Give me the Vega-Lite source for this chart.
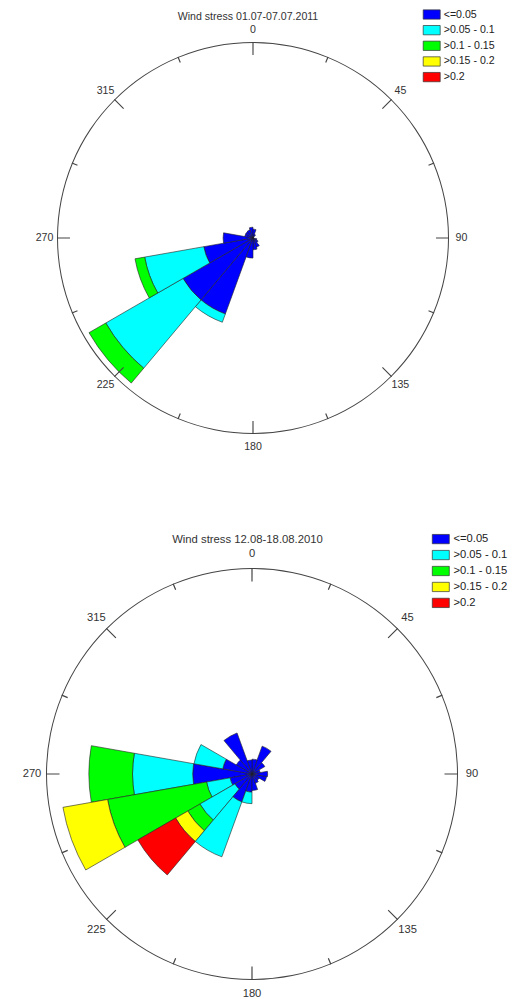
{
  "$schema": "https://vega.github.io/schema/vega-lite/v6.json",
  "padding": 0,
  "background": "white",
  "bounds": "flush",
  "spacing": 73,
  "datasets": {
    "top": [
      {"d0": 200, "d1": 220, "cls": "<=0.05", "v": 16.5},
      {"d0": 200, "d1": 220, "cls": ">0.05 - 0.1", "v": 1.8},
      {"d0": 220, "d1": 240, "cls": "<=0.05", "v": 16.5},
      {"d0": 220, "d1": 240, "cls": ">0.05 - 0.1", "v": 18.2},
      {"d0": 220, "d1": 240, "cls": ">0.1 - 0.15", "v": 3.95},
      {"d0": 240, "d1": 260, "cls": "<=0.05", "v": 10.2},
      {"d0": 240, "d1": 260, "cls": ">0.05 - 0.1", "v": 12.25},
      {"d0": 240, "d1": 260, "cls": ">0.1 - 0.15", "v": 2.0},
      {"d0": 260, "d1": 280, "cls": "<=0.05", "v": 6.1},
      {"d0": 280, "d1": 300, "cls": "<=0.05", "v": 1.7},
      {"d0": 300, "d1": 320, "cls": "<=0.05", "v": 1.7},
      {"d0": 320, "d1": 340, "cls": "<=0.05", "v": 1.8},
      {"d0": 340, "d1": 360, "cls": "<=0.05", "v": 2.2},
      {"d0": 0, "d1": 20, "cls": "<=0.05", "v": 1.8},
      {"d0": 20, "d1": 40, "cls": "<=0.05", "v": 0.8},
      {"d0": 100, "d1": 120, "cls": "<=0.05", "v": 0.8},
      {"d0": 120, "d1": 140, "cls": "<=0.05", "v": 1.2},
      {"d0": 140, "d1": 160, "cls": "<=0.05", "v": 2.0},
      {"d0": 160, "d1": 180, "cls": "<=0.05", "v": 2.4},
      {"d0": 180, "d1": 200, "cls": "<=0.05", "v": 4.1}
    ],
    "bot": [
      {"d0": 260, "d1": 280, "cls": "<=0.05", "v": 7.2},
      {"d0": 260, "d1": 280, "cls": ">0.05 - 0.1", "v": 7.3},
      {"d0": 260, "d1": 280, "cls": ">0.1 - 0.15", "v": 5.3},
      {"d0": 240, "d1": 260, "cls": "<=0.05", "v": 2.7},
      {"d0": 240, "d1": 260, "cls": ">0.05 - 0.1", "v": 2.9},
      {"d0": 240, "d1": 260, "cls": ">0.1 - 0.15", "v": 12.2},
      {"d0": 240, "d1": 260, "cls": ">0.15 - 0.2", "v": 5.5},
      {"d0": 220, "d1": 240, "cls": "<=0.05", "v": 2.4},
      {"d0": 220, "d1": 240, "cls": ">0.05 - 0.1", "v": 4.9},
      {"d0": 220, "d1": 240, "cls": ">0.1 - 0.15", "v": 1.7},
      {"d0": 220, "d1": 240, "cls": ">0.15 - 0.2", "v": 1.7},
      {"d0": 220, "d1": 240, "cls": ">0.2", "v": 5.3},
      {"d0": 200, "d1": 220, "cls": "<=0.05", "v": 3.6},
      {"d0": 200, "d1": 220, "cls": ">0.05 - 0.1", "v": 7.1},
      {"d0": 180, "d1": 200, "cls": "<=0.05", "v": 2.2},
      {"d0": 180, "d1": 200, "cls": ">0.05 - 0.1", "v": 1.4},
      {"d0": 160, "d1": 180, "cls": "<=0.05", "v": 2.0},
      {"d0": 140, "d1": 160, "cls": "<=0.05", "v": 1.2},
      {"d0": 120, "d1": 140, "cls": "<=0.05", "v": 1.0},
      {"d0": 100, "d1": 120, "cls": "<=0.05", "v": 1.8},
      {"d0": 80, "d1": 100, "cls": "<=0.05", "v": 1.9},
      {"d0": 60, "d1": 80, "cls": "<=0.05", "v": 1.0},
      {"d0": 40, "d1": 60, "cls": "<=0.05", "v": 1.8},
      {"d0": 20, "d1": 40, "cls": "<=0.05", "v": 3.6},
      {"d0": 0, "d1": 20, "cls": "<=0.05", "v": 1.8},
      {"d0": 340, "d1": 360, "cls": "<=0.05", "v": 1.7},
      {"d0": 320, "d1": 340, "cls": "<=0.05", "v": 5.3},
      {"d0": 300, "d1": 320, "cls": "<=0.05", "v": 2.2},
      {"d0": 280, "d1": 300, "cls": "<=0.05", "v": 3.6},
      {"d0": 280, "d1": 300, "cls": ">0.05 - 0.1", "v": 3.55}
    ],
    "major": [{"a": 0}, {"a": 45}, {"a": 90}, {"a": 135}, {"a": 180}, {"a": 225}, {"a": 270}, {"a": 315}],
    "minor": [{"a": 22.5}, {"a": 67.5}, {"a": 112.5}, {"a": 157.5}, {"a": 202.5}, {"a": 247.5}, {"a": 292.5}, {"a": 337.5}],
    "labels": [
      {"a": 0, "t": "0"}, {"a": 45, "t": "45"}, {"a": 90, "t": "90"}, {"a": 135, "t": "135"},
      {"a": 180, "t": "180"}, {"a": 225, "t": "225"}, {"a": 270, "t": "270"}, {"a": 315, "t": "315"}
    ]
  },
  "vconcat": [
    {
      "width": 506,
      "height": 476,
      "title": {"text": "Wind stress 01.07-07.07.2011", "frame": "group", "anchor": "middle", "baseline": "middle", "offset": -28, "dx": -5, "fontSize": 10.6},
      "layer": [
        {
          "data": {"name": "top"},
          "transform": [{"stack": "v", "groupby": ["d0"], "sort": [{"field": "cls", "order": "ascending"}], "as": ["r0", "r1"]}],
          "mark": {"type": "arc", "stroke": "#222", "strokeWidth": 0.6},
          "encoding": {
            "theta": {"field": "d0", "type": "quantitative", "stack": null, "scale": {"domain": [0, 360], "range": [0, 6.283185307]}},
            "theta2": {"field": "d1"},
            "radius": {"field": "r1", "type": "quantitative", "scale": {"type": "linear", "domain": [0, 40], "range": [0, 196], "zero": true}},
            "radius2": {"field": "r0"},
            "color": {
              "field": "cls", "type": "nominal",
              "scale": {"domain": ["<=0.05", ">0.05 - 0.1", ">0.1 - 0.15", ">0.15 - 0.2", ">0.2"], "range": ["#0000ff", "#00ffff", "#00ff00", "#ffff00", "#ff0000"]},
              "legend": {"orient": "none", "legendX": 426.2, "legendY": 9, "title": null, "labelFontSize": 10.6, "rowPadding": 2.65, "labelOffset": 6.5}
            }
          }
        },
        {
          "data": {"values": [{}]},
          "mark": {"type": "arc", "fill": "#444", "radius2Offset": -1},
          "encoding": {"theta": {"datum": 0}, "theta2": {"datum": 360}, "radius": {"datum": 40}, "radius2": {"datum": 40}}
        },
        {
          "data": {"name": "major"},
          "mark": {"type": "arc", "fill": "#444", "thetaOffset": -0.003, "theta2Offset": 0.003, "radius2Offset": -13},
          "encoding": {"theta": {"field": "a", "type": "quantitative"}, "theta2": {"field": "a"}, "radius": {"datum": 40}, "radius2": {"datum": 40}}
        },
        {
          "data": {"name": "minor"},
          "mark": {"type": "arc", "fill": "#444", "thetaOffset": -0.003, "theta2Offset": 0.003, "radius2Offset": -6},
          "encoding": {"theta": {"field": "a", "type": "quantitative"}, "theta2": {"field": "a"}, "radius": {"datum": 40}, "radius2": {"datum": 40}}
        },
        {
          "data": {"name": "labels"},
          "mark": {"type": "text", "radiusOffset": 12.5, "fontSize": 10.6, "font": "Liberation Sans", "color": "#333", "align": "center", "baseline": "middle"},
          "encoding": {"theta": {"field": "a", "type": "quantitative"}, "radius": {"datum": 40}, "text": {"field": "t"}}
        }
      ]
    },
    {
      "width": 504,
      "height": 450,
      "title": {"text": "Wind stress 12.08-18.08.2010", "frame": "group", "anchor": "middle", "baseline": "middle", "offset": -17.5, "dx": -4.5, "fontSize": 11.3},
      "layer": [
        {
          "data": {"name": "bot"},
          "transform": [{"stack": "v", "groupby": ["d0"], "sort": [{"field": "cls", "order": "ascending"}], "as": ["r0", "r1"]}],
          "mark": {"type": "arc", "stroke": "#222", "strokeWidth": 0.6},
          "encoding": {
            "theta": {"field": "d0", "type": "quantitative", "stack": null, "scale": {"domain": [0, 360], "range": [0, 6.283185307]}},
            "theta2": {"field": "d1"},
            "radius": {"field": "r1", "type": "quantitative", "scale": {"type": "linear", "domain": [0, 25], "range": [0, 206], "zero": true}},
            "radius2": {"field": "r0"},
            "color": {
              "field": "cls", "type": "nominal",
              "scale": {"domain": ["<=0.05", ">0.05 - 0.1", ">0.1 - 0.15", ">0.15 - 0.2", ">0.2"], "range": ["#0000ff", "#00ffff", "#00ff00", "#ffff00", "#ff0000"]},
              "legend": {"orient": "none", "legendX": 435.2, "legendY": -15.5, "title": null, "labelFontSize": 11.2, "rowPadding": 2.95, "labelOffset": 7.1}
            }
          }
        },
        {
          "data": {"values": [{}]},
          "mark": {"type": "arc", "fill": "#444", "radius2Offset": -1},
          "encoding": {"theta": {"datum": 0}, "theta2": {"datum": 360}, "radius": {"datum": 25}, "radius2": {"datum": 25}}
        },
        {
          "data": {"name": "major"},
          "mark": {"type": "arc", "fill": "#444", "thetaOffset": -0.003, "theta2Offset": 0.003, "radius2Offset": -13.5},
          "encoding": {"theta": {"field": "a", "type": "quantitative"}, "theta2": {"field": "a"}, "radius": {"datum": 25}, "radius2": {"datum": 25}}
        },
        {
          "data": {"name": "minor"},
          "mark": {"type": "arc", "fill": "#444", "thetaOffset": -0.003, "theta2Offset": 0.003, "radius2Offset": -6.5},
          "encoding": {"theta": {"field": "a", "type": "quantitative"}, "theta2": {"field": "a"}, "radius": {"datum": 25}, "radius2": {"datum": 25}}
        },
        {
          "data": {"name": "labels"},
          "mark": {"type": "text", "radiusOffset": 14, "fontSize": 11.2, "font": "Liberation Sans", "color": "#333", "align": "center", "baseline": "middle"},
          "encoding": {"theta": {"field": "a", "type": "quantitative"}, "radius": {"datum": 25}, "text": {"field": "t"}}
        }
      ]
    }
  ],
  "resolve": {
    "scale": {"color": "independent", "radius": "independent", "theta": "independent"},
    "legend": {"color": "independent"}
  },
  "config": {
    "view": {"stroke": null},
    "title": {"font": "Liberation Sans", "fontWeight": "normal", "color": "#333"},
    "legend": {
      "symbolType": "M-1.7,-0.93H1.7V0.93H-1.7Z",
      "symbolSize": 100,
      "symbolStrokeColor": "#333",
      "symbolStrokeWidth": 0.7,
      "symbolOpacity": 1,
      "labelFont": "Liberation Sans",
      "labelColor": "#222",
      "padding": 0
    }
  }
}
